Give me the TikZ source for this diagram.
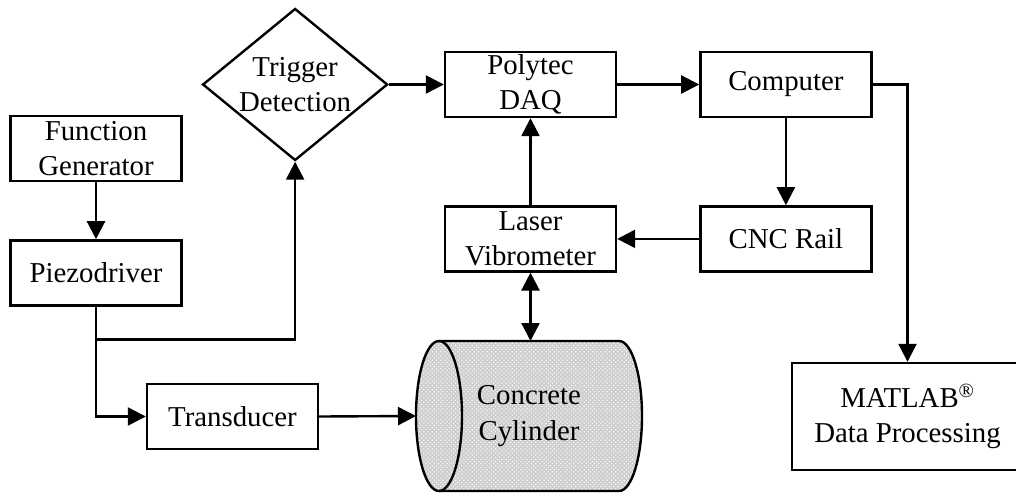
\documentclass[tikz,border=0pt]{standalone}
\usepackage{fontspec}
\setmainfont{Liberation Serif}
\usepackage{tikz}
\usetikzlibrary{positioning, calc, arrows.meta, shapes.geometric, patterns}

\begin{document}
\begin{tikzpicture}[
                block/.style={draw, line width=1.7pt, minimum width=4.275cm,
                  minimum height=1.625cm, align=center, inner sep=1pt,
                  font=\fontsize{20.5}{25}\selectfont},
                decision/.style={block, diamond, aspect=1.22, inner sep=0pt,
                  minimum width=4.625cm, minimum height=3.8cm},
                link/.style={line width=1.7pt, -{Triangle[length=4.5mm,width=4.5mm]}}, % solid arrow heads
                link2/.style={link, {Triangle[length=4.5mm,width=4.5mm]}-{Triangle[length=4.5mm,width=4.5mm]}}
                ]
                \useasboundingbox (0,0) rectangle (25.4,-12.325);

                % upper row
                \node [block] (daq) at (13.2625,-2.1125) {Polytec\\DAQ};
                \node [block, right=2.05cm of daq] (comp) {Computer};
                \node [decision, left=1.375cm of daq] (trig) {Trigger\\Detection};
                \node [block, below=2.175cm of daq] (laser) {Laser\\Vibrometer};
                \node [block, below=2.175cm of comp] (cnc) {CNC Rail};

                % signal source
                \node [block] (fgen) at (2.4,-3.7125) {Function\\Generator};
                \node [block, below=1.425cm of fgen] (piezo) {Piezodriver};
                \node [block] (trans) at (5.8125,-10.4125) {Transducer};
                \node [block, minimum width=5.775cm, minimum height=2.675cm] (matlab)
                  at (22.6875,-10.4125) {MATLAB\textsuperscript{\textregistered}\\Data Processing};

                % specimen
                \coordinate (cylc) at (13.225,-10.4);
                \coordinate (cylW) at ($(cylc)+(-2.825,0)$);
                \coordinate (cylN) at ($(cylc)+(0,1.875)$);
                \path [fill=gray!38, postaction={pattern=crosshatch dots, pattern color=white}]
                  ($(cylc)+(-2.25,1.875)$) -- ++(4.5,0)
                  arc [start angle=90, end angle=-90, x radius=0.575cm, y radius=1.875cm]
                  -- ++(-4.5,0)
                  arc [start angle=270, end angle=90, x radius=0.575cm, y radius=1.875cm] -- cycle;
                \draw [line width=1.7pt] ($(cylc)+(-2.25,1.875)$) -- ++(4.5,0)
                  arc [start angle=90, end angle=-90, x radius=0.575cm, y radius=1.875cm]
                  -- ++(-4.5,0);
                \draw [line width=1.7pt] ($(cylc)+(-2.25,0)$) ellipse [x radius=0.575cm, y radius=1.875cm];
                \node [font=\fontsize{20.5}{25}\selectfont, align=center] (cyl) at (cylc) {Concrete\\Cylinder};

                % connections
                \draw [link] (fgen) -- (piezo);
                \draw [link] (piezo.south) -- ++(0,-0.825) coordinate (tap) -| (trig.south);
                \draw [link] (tap) |- (trans.west);
                \draw [link] (trans.east) -- (cylW);
                \draw [link] (trig.east) -- (daq.west);
                \draw [link] (daq) -- (comp);
                \draw [link] (comp) -- (cnc);
                \draw [link] (cnc) -- (laser);
                \draw [link] (laser) -- (daq);
                \draw [link2] (laser.south) -- (laser.south |- cylN);
                \draw [link] (comp.east) -| (matlab.north);
\end{tikzpicture}
\end{document}
